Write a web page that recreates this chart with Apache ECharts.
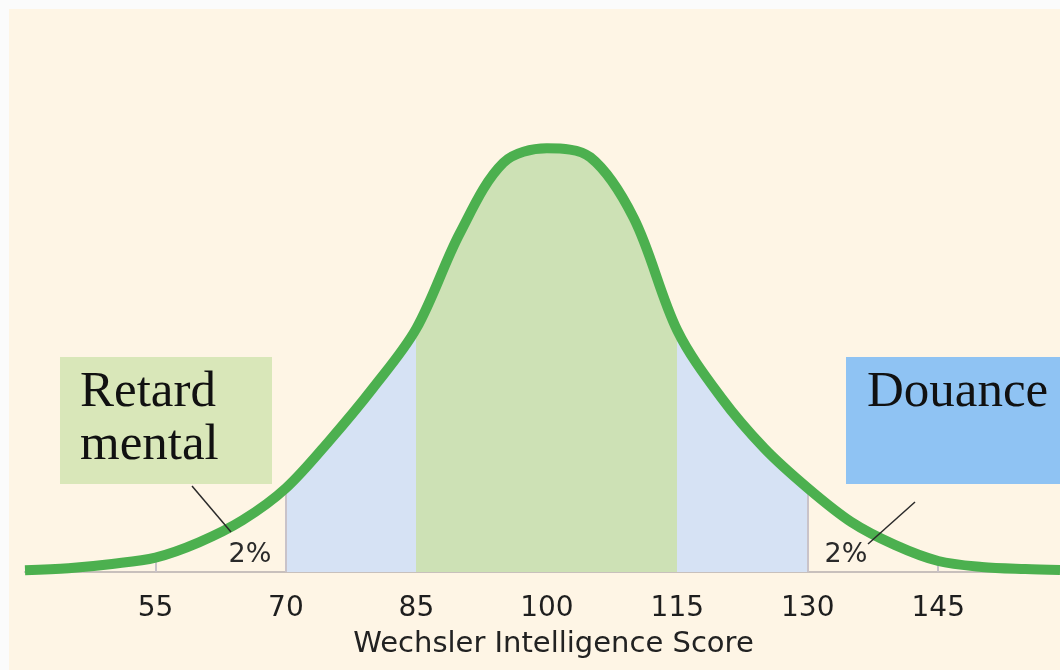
<!DOCTYPE html>
<html>
<head>
<meta charset="utf-8">
<script src="https://cdn.jsdelivr.net/npm/echarts@6/dist/echarts.min.js"></script>
<style>
html,body{margin:0;padding:0;background:#fbfbfb;}
#showView{width:1060px;height:670px;}
</style>
</head>
<body>
<div id="showView"></div>
<script>
// scores, heights in % of the peak
var scores  = [40, 45, 50, 55, 60, 65, 70, 75, 80, 85, 90, 95, 100,
               105, 110, 115, 120, 125, 130, 135, 140, 145, 150, 155, 159];
var heights = [0.4, 0.9, 1.9, 3.4, 7, 12.2, 19.8, 31, 43.4, 57.5, 80, 96.6, 100,
               97.9, 83.5, 57, 41.3, 29.2, 19.8, 11.8, 6.4, 2.6, 1.2, 0.7, 0.5];
var tickLabels = [55, 70, 85, 100, 115, 130, 145];
var dropLines = [55, 70, 130, 145];
var bands = [
	{from: 70, to: 85, color: '#d6e2f4'},
	{from: 85, to: 115, color: '#cde1b5'},
	{from: 115, to: 130, color: '#d6e2f4'}
];

function heightAt(s){
	for(var i = 0 ; i < scores.length ; i++ ){
		if( scores[i] == s ){
			return heights[i];
		}
	}
	return 0;
}

var curve = [];
for(var i = 0 ; i < scores.length ; i++ ){
	curve.push([scores[i], heights[i]]);
}

var drops = [];
for(var i = 0 ; i < dropLines.length ; i++ ){
	drops.push([{coord: [dropLines[i], 0]}, {coord: [dropLines[i], heightAt(dropLines[i])]}]);
}

var pieces = [];
for(var i = 0 ; i < bands.length ; i++ ){
	pieces.push({gte: bands[i].from, lt: bands[i].to, color: bands[i].color});
}

var myChart = echarts.init(document.getElementById('showView'));
var option = {
	backgroundColor: '#fef5e5',
	animation: false,
	grid: {left: 25, right: 0, top: 106, bottom: 98},
	xAxis: {
		type: 'value',
		min: 40,
		max: 159,
		name: 'Wechsler Intelligence Score',
		nameLocation: 'middle',
		nameGap: 58,
		nameTextStyle: {fontFamily: 'DejaVu Sans', fontSize: 29, color: '#222', padding: [0, 0, 0, 22]},
		axisLine: {lineStyle: {color: '#c8c0bc', width: 2}},
		axisTick: {show: false},
		splitLine: {show: false},
		axisLabel: {
			customValues: tickLabels,
			margin: 23,
			fontFamily: 'DejaVu Sans',
			fontSize: 28,
			color: '#1e1e1e'
		}
	},
	yAxis: {type: 'value', min: 0, max: 110, show: false},
	visualMap: {
		type: 'piecewise',
		show: false,
		dimension: 0,
		seriesIndex: 0,
		pieces: pieces,
		outOfRange: {color: 'rgba(0,0,0,0)'}
	},
	series: [
		{
			type: 'line',
			data: curve,
			smooth: 0.33,
			showSymbol: false,
			lineStyle: {width: 0},
			areaStyle: {opacity: 1},
			z: 2,
			markLine: {
				silent: true,
				symbol: 'none',
				z: 3,
				label: {show: false},
				lineStyle: {color: '#c9c3c9', width: 2, type: 'solid'},
				data: drops
			}
		},
		{
			type: 'line',
			data: curve,
			smooth: 0.33,
			showSymbol: false,
			lineStyle: {color: '#4cb04f', width: 10},
			z: 10
		}
	],
	graphic: [
		{type: 'rect', shape: {x: 0, y: 0, width: 1060, height: 9}, style: {fill: '#fbfbfb'}},
		{type: 'rect', shape: {x: 0, y: 0, width: 9, height: 670}, style: {fill: '#fbfbfb'}},
		{type: 'rect', z: 20, shape: {x: 60, y: 357, width: 212, height: 127}, style: {fill: '#d9e7b9'}},
		{type: 'text', z: 21, x: 80, y: 418, style: {text: 'Retard', fontFamily: 'Liberation Serif', fontSize: 51, fill: '#111', verticalAlign: 'bottom'}},
		{type: 'text', z: 21, x: 80, y: 471, style: {text: 'mental', fontFamily: 'Liberation Serif', fontSize: 51, fill: '#111', verticalAlign: 'bottom'}},
		{type: 'rect', z: 20, shape: {x: 846, y: 357, width: 214, height: 127}, style: {fill: '#8fc3f3'}},
		{type: 'text', z: 21, x: 867, y: 418, style: {text: 'Douance', fontFamily: 'Liberation Serif', fontSize: 51, fill: '#111', verticalAlign: 'bottom'}},
		{type: 'line', z: 20, shape: {x1: 192, y1: 486, x2: 231, y2: 532}, style: {stroke: '#2a2a2a', lineWidth: 1.5}},
		{type: 'line', z: 20, shape: {x1: 915, y1: 502, x2: 868, y2: 544}, style: {stroke: '#2a2a2a', lineWidth: 1.5}},
		{type: 'text', z: 21, x: 250, y: 555, style: {text: '2%', fontFamily: 'DejaVu Sans', fontSize: 27, fill: '#2a2a2a', align: 'center', verticalAlign: 'middle'}},
		{type: 'text', z: 21, x: 846, y: 555, style: {text: '2%', fontFamily: 'DejaVu Sans', fontSize: 27, fill: '#2a2a2a', align: 'center', verticalAlign: 'middle'}}
	]
};
myChart.setOption(option);
</script>
</body>
</html>
